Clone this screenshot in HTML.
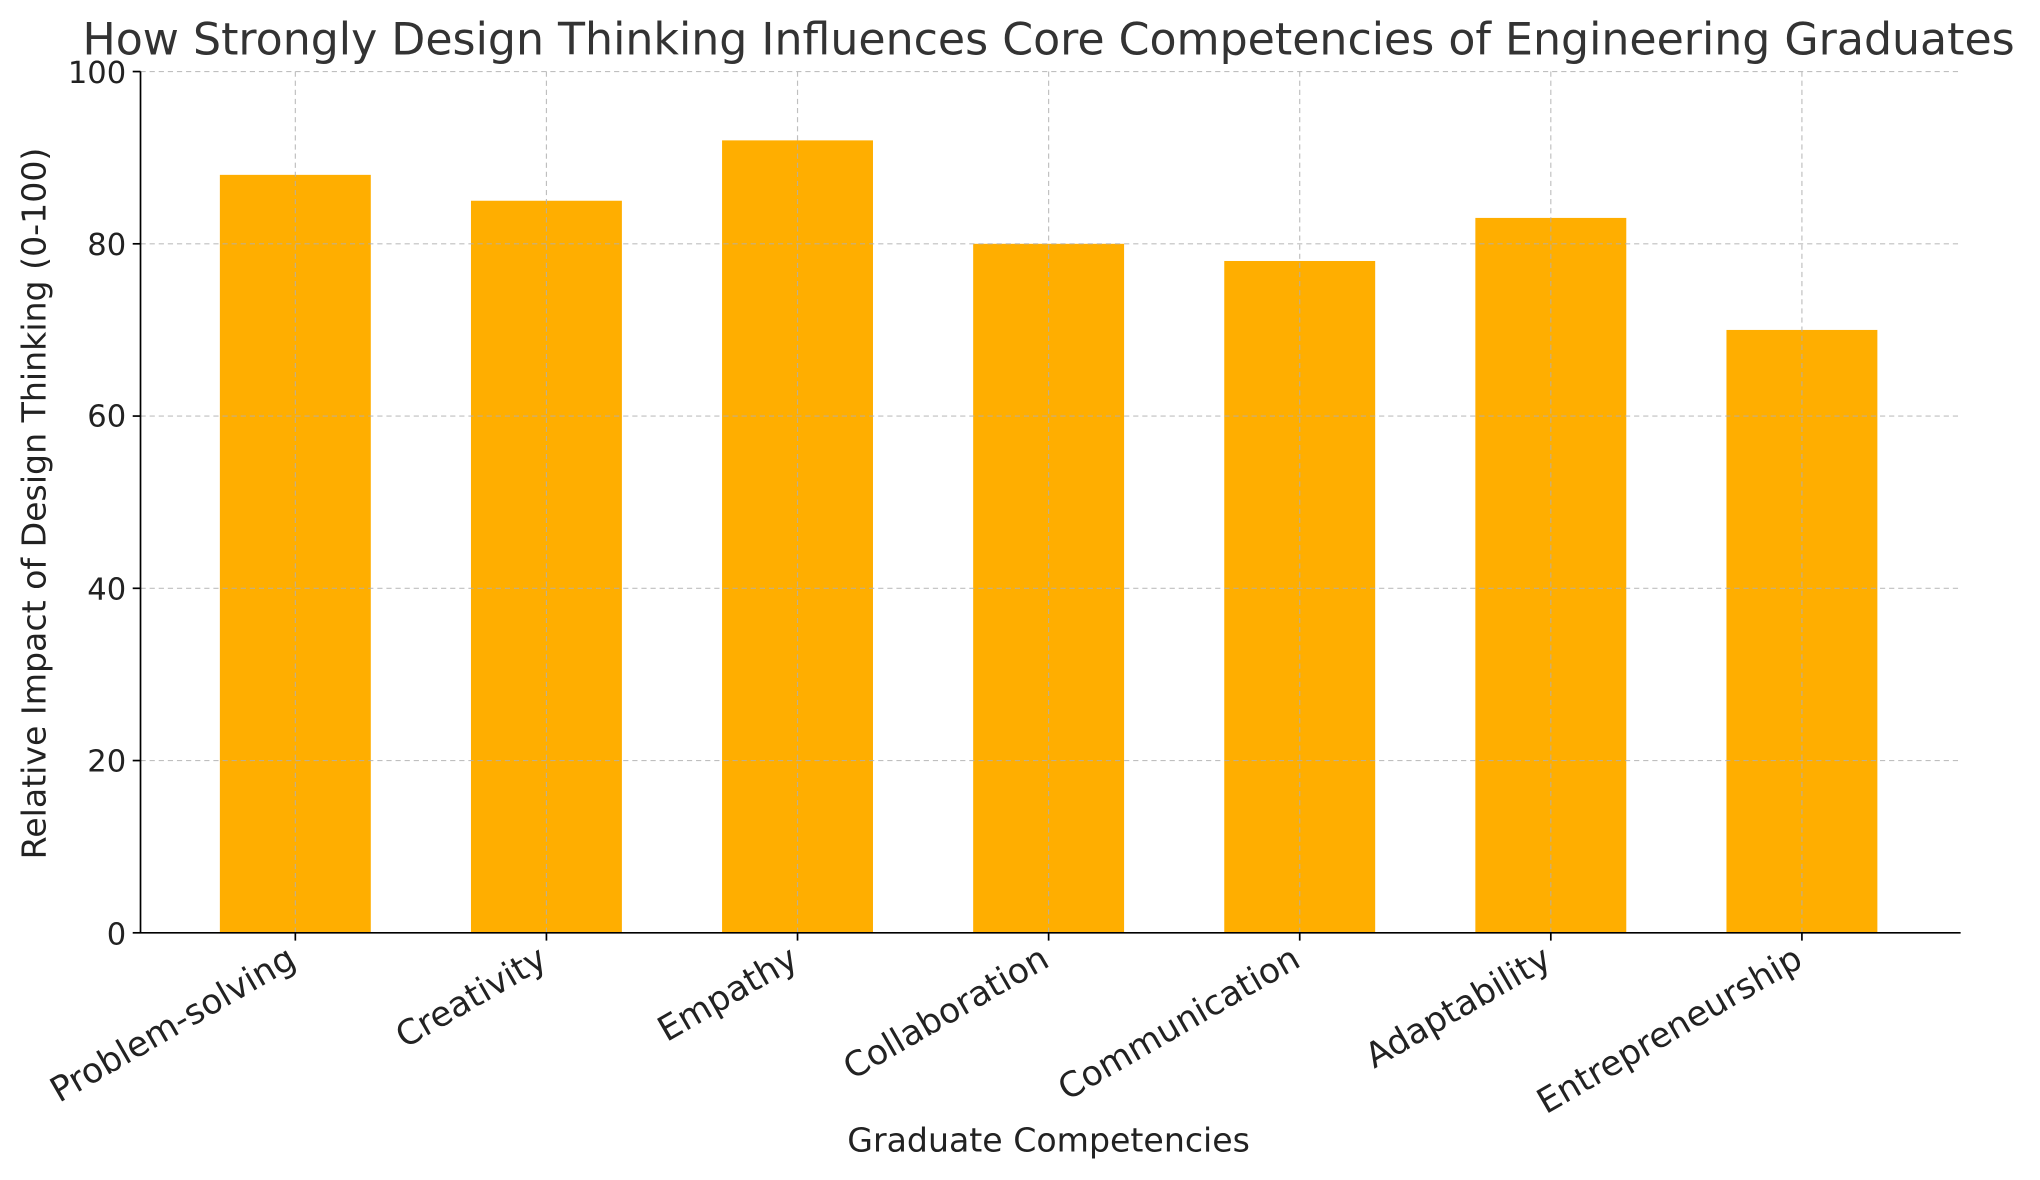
<!DOCTYPE html>
<html><head><meta charset="utf-8"><style>html,body{margin:0;padding:0;background:#fff}svg{display:block}</style></head>
<body>
<svg width="2040" height="1180" viewBox="0 0 1568 907" preserveAspectRatio="none" xmlns="http://www.w3.org/2000/svg" font-family="DejaVu Sans, Liberation Sans, sans-serif">
<rect width="1568" height="907" fill="#fff"/>
<g fill="#FFAE00">
<rect x="169" y="134.4" width="116" height="582.6"/>
<rect x="362" y="154.3" width="116" height="562.7"/>
<rect x="555" y="107.9" width="116" height="609.1"/>
<rect x="748" y="187.4" width="116" height="529.6"/>
<rect x="941" y="200.6" width="116" height="516.4"/>
<rect x="1134" y="167.5" width="116" height="549.5"/>
<rect x="1327" y="253.6" width="116" height="463.4"/>
</g>
<g stroke="#b0b0b0" stroke-dasharray="4,3" stroke-width="0.9" opacity="0.8">
<line x1="108" x2="1507" y1="55" y2="55"/><line x1="108" x2="1507" y1="187.4" y2="187.4"/><line x1="108" x2="1507" y1="319.8" y2="319.8"/><line x1="108" x2="1507" y1="452.2" y2="452.2"/><line x1="108" x2="1507" y1="584.6" y2="584.6"/>
<line x1="227" x2="227" y1="55" y2="717"/><line x1="420" x2="420" y1="55" y2="717"/><line x1="613" x2="613" y1="55" y2="717"/><line x1="806" x2="806" y1="55" y2="717"/><line x1="999" x2="999" y1="55" y2="717"/><line x1="1192" x2="1192" y1="55" y2="717"/><line x1="1385" x2="1385" y1="55" y2="717"/>
</g>
<g stroke="#000" stroke-width="1.3">
<line x1="108" x2="108" y1="55" y2="717"/><line x1="108" x2="1507" y1="717" y2="717"/>
<line x1="102" x2="108" y1="55" y2="55"/><line x1="102" x2="108" y1="187.4" y2="187.4"/><line x1="102" x2="108" y1="319.8" y2="319.8"/><line x1="102" x2="108" y1="452.2" y2="452.2"/><line x1="102" x2="108" y1="584.6" y2="584.6"/><line x1="102" x2="108" y1="717" y2="717"/>
<line x1="227" x2="227" y1="717" y2="723"/><line x1="420" x2="420" y1="717" y2="723"/><line x1="613" x2="613" y1="717" y2="723"/><line x1="806" x2="806" y1="717" y2="723"/><line x1="999" x2="999" y1="717" y2="723"/><line x1="1192" x2="1192" y1="717" y2="723"/><line x1="1385" x2="1385" y1="717" y2="723"/>
</g>
<g font-size="23.5" fill="#222" text-anchor="end">
<text x="97" y="64">100</text><text x="97" y="196">80</text><text x="97" y="328">60</text><text x="97" y="461">40</text><text x="97" y="593">20</text><text x="97" y="726">0</text>
</g>
<g font-size="26.5" fill="#222" text-anchor="end">
<text transform="translate(229,742) rotate(-30)">Problem-solving</text>
<text transform="translate(422,742) rotate(-30)">Creativity</text>
<text transform="translate(615,742) rotate(-30)">Empathy</text>
<text transform="translate(808,742) rotate(-30)">Collaboration</text>
<text transform="translate(1001,742) rotate(-30)">Communication</text>
<text transform="translate(1194,742) rotate(-30)">Adaptability</text>
<text transform="translate(1387,742) rotate(-30)">Entrepreneurship</text>
</g>
<text x="806" y="885" font-size="25.5" fill="#222" text-anchor="middle">Graduate Competencies</text>
<text transform="translate(35,387) rotate(-90)" font-size="25.5" fill="#222" text-anchor="middle">Relative Impact of Design Thinking (0-100)</text>
<text x="806" y="42" font-size="34" fill="#333" text-anchor="middle">How Strongly Design Thinking Influences Core Competencies of Engineering Graduates</text>
</svg>
</body></html>
